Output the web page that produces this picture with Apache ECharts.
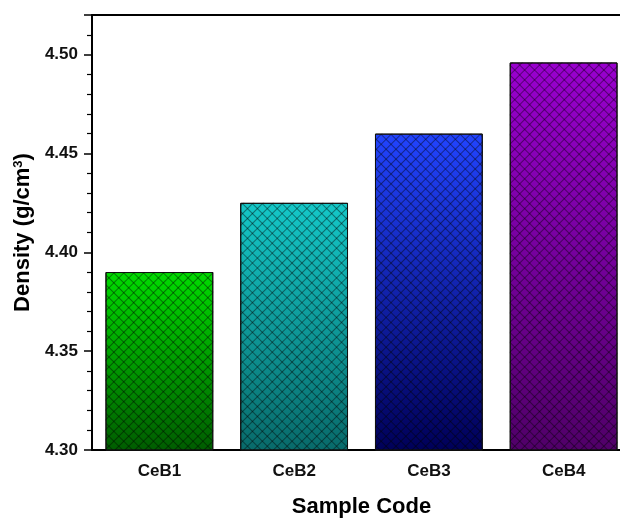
<!DOCTYPE html>
<html>
<head>
<meta charset="utf-8">
<script src="https://cdn.jsdelivr.net/npm/echarts@6/dist/echarts.min.js"></script>
<style>
  html, body { margin: 0; padding: 0; background: #fff; }
  #chart { width: 620px; height: 518px; }
</style>
</head>
<body>
<div id="chart"></div>
<script>
// Sample codes and measured densities (g/cm³)
const categories = ['CeB1', 'CeB2', 'CeB3', 'CeB4'];
const densities = [4.390, 4.425, 4.460, 4.496];
// Top / bottom colours of each bar's vertical gradient
const topColors = ['#00dc00', '#14c8c8', '#2244ff', '#9a00d0'];
const bottomColors = ['#005c00', '#086a6a', '#000058', '#500068'];

const FONT = 'Liberation Sans, Arial, sans-serif';

function gradient(i) {
  return new echarts.graphic.LinearGradient(0, 0, 0, 1, [
    { offset: 0, color: topColors[i] },
    { offset: 1, color: bottomColors[i] }
  ]);
}

// One family of diagonal hatch lines; two overlaid give the cross-hatch
function hatch(angle) {
  return {
    symbol: 'rect',
    symbolSize: 1,
    color: 'rgba(0,0,0,0.42)',
    backgroundColor: 'rgba(0,0,0,0)',
    dashArrayX: [1, 0],
    dashArrayY: [1, 6],
    rotation: angle
  };
}

const chart = echarts.init(document.getElementById('chart'), null, { renderer: 'canvas' });

chart.setOption({
  animation: false,
  backgroundColor: '#ffffff',
  grid: {
    left: 92, top: 15, width: 539, height: 435,
    containLabel: false,
    outerBoundsMode: 'none'
  },
  xAxis: [
    {
      type: 'category',
      data: categories,
      position: 'bottom',
      axisLine: { lineStyle: { color: '#000', width: 2 } },
      axisTick: { alignWithLabel: true, length: 7, lineStyle: { color: '#000', width: 2 } },
      axisLabel: { color: '#111', fontFamily: FONT, fontWeight: 'bold', fontSize: 17, margin: 13 },
      name: 'Sample Code',
      nameLocation: 'middle',
      nameGap: 46,
      nameTextStyle: { color: '#000', fontFamily: FONT, fontWeight: 'bold', fontSize: 22 }
    },
    {
      type: 'category',
      data: categories,
      position: 'top',
      axisLine: { lineStyle: { color: '#000', width: 2 } },
      axisTick: { show: false },
      axisLabel: { show: false }
    }
  ],
  yAxis: {
    type: 'value',
    min: 4.30,
    max: 4.52,
    interval: 0.05,
    splitLine: { show: false },
    axisLine: { show: true, lineStyle: { color: '#000', width: 2 } },
    axisTick: { show: true, length: 8, lineStyle: { color: '#000', width: 1.5 } },
    minorTick: { show: true, splitNumber: 5, length: 5, lineStyle: { color: '#000', width: 1.2 } },
    axisLabel: {
      color: '#111', fontFamily: FONT, fontWeight: 'bold', fontSize: 17, margin: 14,
      showMaxLabel: false,
      formatter: v => v.toFixed(2)
    },
    name: '{a|Density (g/cm}{s|3}{a|)}',
    nameLocation: 'middle',
    nameGap: 52,
    nameRotate: 90,
    nameTextStyle: {
      rich: {
        a: { fontFamily: FONT, fontWeight: 'bold', fontSize: 22, color: '#000' },
        s: { fontFamily: FONT, fontWeight: 'bold', fontSize: 13, color: '#000', verticalAlign: 'top', padding: [0, 0, 10, 0] }
      }
    }
  },
  series: [
    {
      type: 'bar',
      barWidth: '80%',
      data: densities.map((v, i) => ({
        value: v,
        itemStyle: { color: gradient(i), decal: hatch(Math.PI / 4) }
      })),
      itemStyle: { borderColor: '#111', borderWidth: 1 },
      z: 2
    },
    {
      type: 'bar',
      barWidth: '80%',
      barGap: '-100%',
      data: densities.slice(),
      itemStyle: { color: 'rgba(0,0,0,0)', decal: hatch(-Math.PI / 4) },
      silent: true,
      z: 3
    }
  ]
});
</script>
</body>
</html>
